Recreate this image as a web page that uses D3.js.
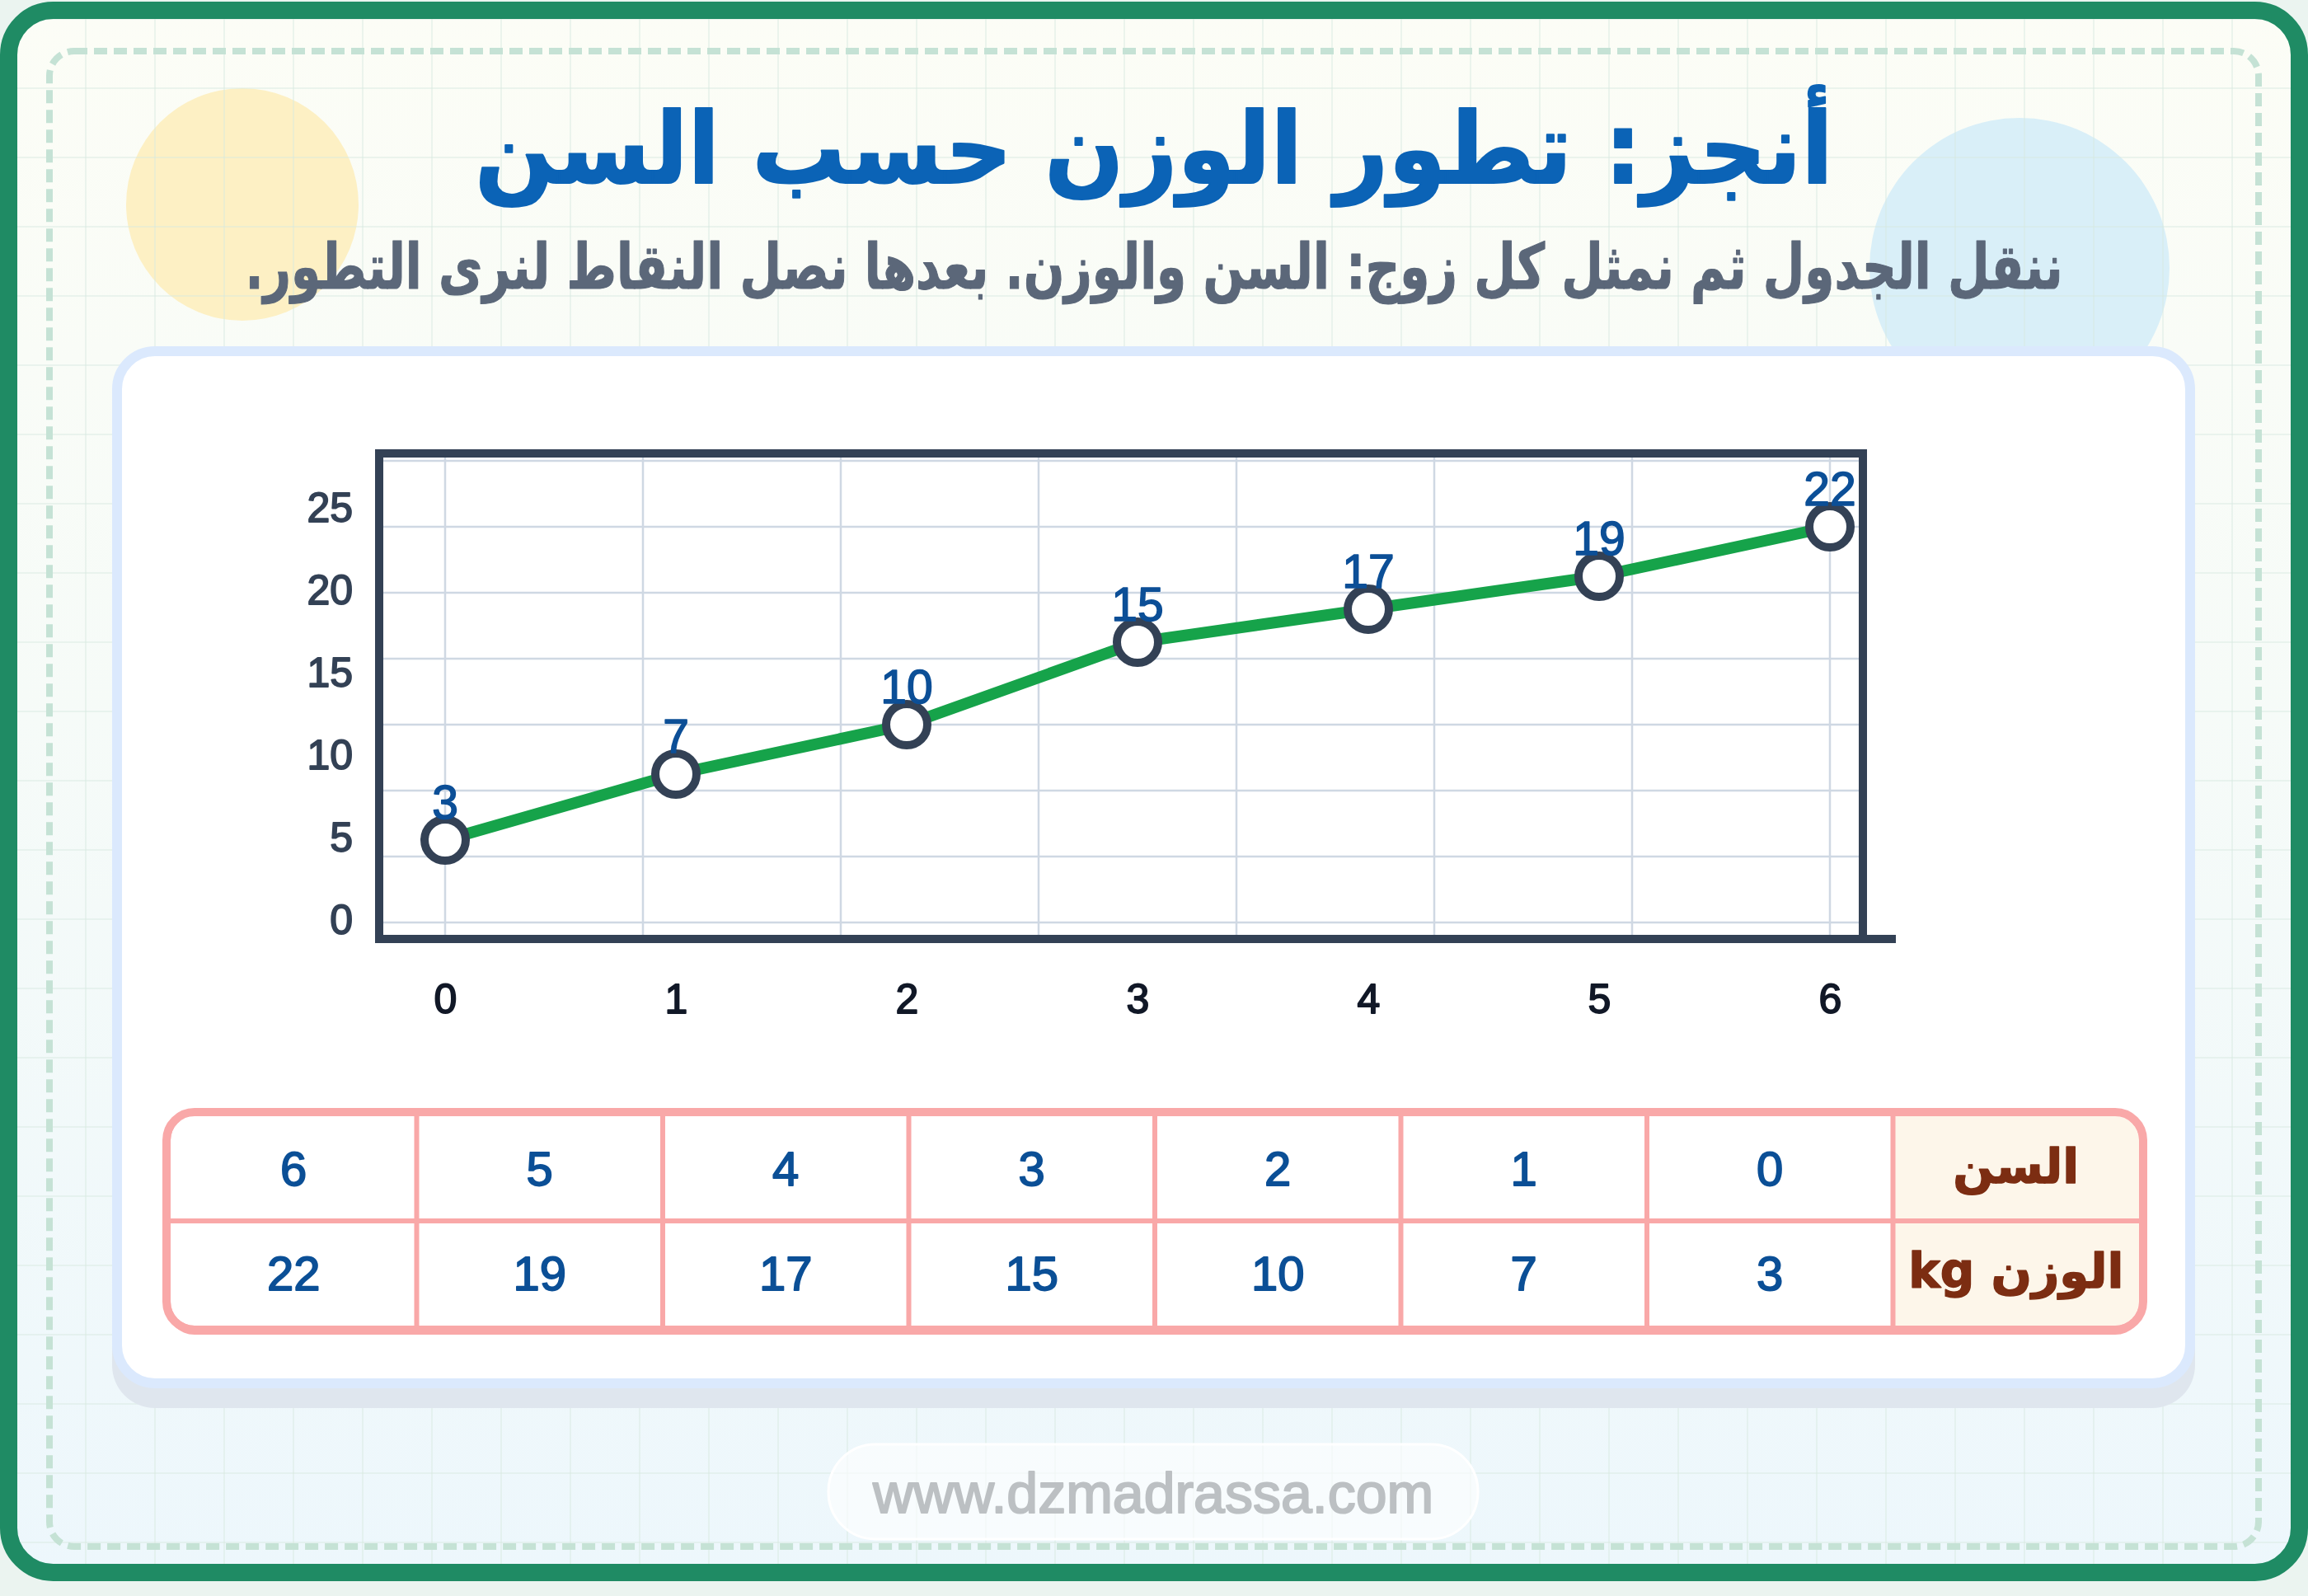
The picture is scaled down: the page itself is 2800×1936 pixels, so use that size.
<!DOCTYPE html>
<html>
<head>
<meta charset="utf-8">
<script src="https://cdn.jsdelivr.net/npm/d3@7"></script>
<style>
  html, body { margin: 0; padding: 0; background: #ebf4f0; }
  svg { display: block; }
</style>
</head>
<body>
<div id="vis"></div>
<script>
// data
const ages = [0, 1, 2, 3, 4, 5, 6];
const weights = [3, 7, 10, 15, 17, 19, 22];
const yTicks = [0, 5, 10, 15, 20, 25];
const yGrid = [-2, 2, 6, 10, 14, 18, 22, 26];
const rowKeys = ['age', 'weight'];
const rowLabels = ['السن', 'الوزن kg'];
const titleText = 'أنجز: تطور الوزن حسب السن';
const subtitleText = 'ننقل الجدول ثم نمثل كل زوج: السن والوزن. بعدها نصل النقاط لنرى التطور.';
const footerText = 'www.dzmadrassa.com';

const W = 2800, H = 1936;
const arabicFont = '"DejaVu Sans", sans-serif';
const latinFont = '"Liberation Sans", Arial, sans-serif';

const svg = d3.select('#vis').append('svg')
  .attr('width', W)
  .attr('height', H);

// slightly heavier than regular: outline glyphs in their own colour
function semibold(sel, color, w) {
  sel.attr('stroke', color).attr('stroke-width', w).attr('stroke-linejoin', 'round');
}

const defs = svg.append('defs');
const grad = defs.append('linearGradient')
  .attr('id', 'bgGrad')
  .attr('x1', 0).attr('y1', 0).attr('x2', 0).attr('y2', 1);
grad.append('stop').attr('offset', 0).attr('stop-color', '#fcfdf6');
grad.append('stop').attr('offset', 0.45).attr('stop-color', '#f6fbf8');
grad.append('stop').attr('offset', 1).attr('stop-color', '#edf7fc');

defs.append('clipPath').attr('id', 'innerClip')
  .append('rect')
  .attr('x', 21).attr('y', 23)
  .attr('width', 2758).attr('height', 1874)
  .attr('rx', 44);

// page card background
svg.append('rect')
  .attr('x', 10.5).attr('y', 12.5)
  .attr('width', 2779).attr('height', 1895)
  .attr('rx', 54)
  .attr('fill', 'url(#bgGrad)');

// decorative circles
svg.append('circle')
  .attr('cx', 294).attr('cy', 248).attr('r', 141)
  .attr('fill', '#fdf0c4');
svg.append('circle')
  .attr('cx', 2450).attr('cy', 325).attr('r', 182)
  .attr('fill', '#d9eff8');

// faint background grid
const bgGrid = svg.append('g').attr('clip-path', 'url(#innerClip)');
bgGrid.selectAll('line.gv')
  .data(d3.range(20, W, 84))
  .enter().append('line')
  .attr('class', 'gv')
  .attr('x1', d => d).attr('x2', d => d)
  .attr('y1', 0).attr('y2', H)
  .attr('stroke', '#d6e8e0')
  .attr('stroke-opacity', 0.45)
  .attr('stroke-width', 2);
bgGrid.selectAll('line.gh')
  .data(d3.range(23, H, 84))
  .enter().append('line')
  .attr('class', 'gh')
  .attr('x1', 0).attr('x2', W)
  .attr('y1', d => d).attr('y2', d => d)
  .attr('stroke', '#d6e8e0')
  .attr('stroke-opacity', 0.45)
  .attr('stroke-width', 2);

// dashed frame
svg.append('rect')
  .attr('x', 60).attr('y', 62)
  .attr('width', 2680).attr('height', 1814)
  .attr('rx', 30)
  .attr('fill', 'none')
  .attr('stroke', '#c5e2d5')
  .attr('stroke-width', 8)
  .attr('stroke-dasharray', '16 8');

// green border
svg.append('rect')
  .attr('x', 10.5).attr('y', 12.5)
  .attr('width', 2779).attr('height', 1895)
  .attr('rx', 54)
  .attr('fill', 'none')
  .attr('stroke', '#1f8b64')
  .attr('stroke-width', 21);

// title + subtitle
svg.append('text')
  .attr('x', 1400).attr('y', 222)
  .attr('text-anchor', 'middle')
  .attr('direction', 'rtl')
  .attr('font-family', arabicFont)
  .attr('font-weight', 700)
  .attr('font-size', 120)
  .attr('fill', '#0b63b6')
  .attr('textLength', 1648)
  .attr('lengthAdjust', 'spacingAndGlyphs')
  .call(semibold, '#0b63b6', 2)
  .text(titleText);

svg.append('text')
  .attr('x', 1400).attr('y', 350)
  .attr('text-anchor', 'middle')
  .attr('direction', 'rtl')
  .attr('font-family', arabicFont)
  .attr('font-weight', 700)
  .attr('font-size', 76)
  .attr('fill', '#5b6779')
  .attr('textLength', 2205)
  .attr('lengthAdjust', 'spacingAndGlyphs')
  .call(semibold, '#5b6779', 1.2)
  .text(subtitleText);

// white chart card with offset shadow
svg.append('rect')
  .attr('x', 136).attr('y', 444)
  .attr('width', 2527).attr('height', 1264)
  .attr('rx', 52)
  .attr('fill', '#dfe6ee');
svg.append('rect')
  .attr('x', 142).attr('y', 426)
  .attr('width', 2515).attr('height', 1252)
  .attr('rx', 46)
  .attr('fill', '#ffffff')
  .attr('stroke', '#dbe9fd')
  .attr('stroke-width', 12);

// ---- plot ----
const plot = {left: 460, right: 2260, top: 550, bottom: 1139};
const xScale = d3.scaleLinear().domain([0, 6]).range([540, 2220]);
const yScale = d3.scaleLinear().domain([-3, 26.5]).range([plot.bottom, plot.top - 1]);

const gridG = svg.append('g');
gridG.selectAll('line.hy')
  .data(yGrid)
  .enter().append('line')
  .attr('class', 'hy')
  .attr('x1', plot.left + 5).attr('x2', plot.right - 5)
  .attr('y1', d => yScale(d)).attr('y2', d => yScale(d))
  .attr('stroke', '#cfd8e3')
  .attr('stroke-width', 2.5);
gridG.selectAll('line.vx')
  .data(d3.range(8).map(i => i * 6 / 7))
  .enter().append('line')
  .attr('class', 'vx')
  .attr('x1', d => xScale(d)).attr('x2', d => xScale(d))
  .attr('y1', plot.top + 5).attr('y2', plot.bottom - 5)
  .attr('stroke', '#cfd8e3')
  .attr('stroke-width', 2.5);

svg.append('rect')
  .attr('x', plot.left).attr('y', plot.top)
  .attr('width', plot.right - plot.left)
  .attr('height', plot.bottom - plot.top)
  .attr('fill', 'none')
  .attr('stroke', '#334155')
  .attr('stroke-width', 10);
svg.append('line')
  .attr('x1', plot.left - 5).attr('x2', plot.right + 40)
  .attr('y1', plot.bottom).attr('y2', plot.bottom)
  .attr('stroke', '#334155')
  .attr('stroke-width', 10);

// axes (labels only)
const yAxisG = svg.append('g')
  .attr('transform', `translate(${plot.left},37)`)
  .call(d3.axisLeft(yScale).tickValues(yTicks).tickSize(0).tickPadding(32));
yAxisG.select('.domain').remove();
yAxisG.selectAll('text')
  .attr('font-family', latinFont)
  .attr('font-size', 50)
  .attr('fill', '#334155')
  .call(semibold, '#334155', 1.8);

const xAxisG = svg.append('g')
  .attr('transform', `translate(0,${plot.bottom})`)
  .call(d3.axisBottom(xScale).tickValues(ages).tickFormat(d3.format('d')).tickSize(0).tickPadding(54));
xAxisG.select('.domain').remove();
xAxisG.selectAll('text')
  .attr('font-family', latinFont)
  .attr('font-size', 50)
  .attr('fill', '#111827')
  .call(semibold, '#111827', 1.8);

// line + points
const weightLine = d3.line()
  .x((d, i) => xScale(ages[i]))
  .y(d => yScale(d));

svg.append('path')
  .attr('d', weightLine(weights))
  .attr('fill', 'none')
  .attr('stroke', '#16a34a')
  .attr('stroke-width', 14)
  .attr('stroke-linejoin', 'round');

svg.selectAll('circle.pt')
  .data(weights)
  .enter().append('circle')
  .attr('class', 'pt')
  .attr('cx', (d, i) => xScale(ages[i]))
  .attr('cy', d => yScale(d))
  .attr('r', 25)
  .attr('fill', '#ffffff')
  .attr('stroke', '#334155')
  .attr('stroke-width', 10);

svg.selectAll('text.pl')
  .data(weights)
  .enter().append('text')
  .attr('class', 'pl')
  .attr('x', (d, i) => xScale(ages[i]))
  .attr('y', d => yScale(d) - 26)
  .attr('text-anchor', 'middle')
  .attr('font-family', latinFont)
  .attr('font-size', 57)
  .attr('fill', '#0c4f97')
  .call(semibold, '#0c4f97', 1.6)
  .text(d => d);

// ---- table ----
const tbl = {left: 207, right: 2595, top: 1354, bottom: 1608};
const colX = d3.scaleBand().domain(['head', ...ages]).range([tbl.right, tbl.left]);
const rowY = d3.scaleBand().domain(rowKeys).range([tbl.top, tbl.bottom]);
const bw = colX.bandwidth();

defs.append('clipPath').attr('id', 'tblClip')
  .append('rect')
  .attr('x', tbl.left).attr('y', tbl.top)
  .attr('width', tbl.right - tbl.left).attr('height', tbl.bottom - tbl.top)
  .attr('rx', 29);

svg.append('rect')
  .attr('x', 202).attr('y', 1355)
  .attr('width', 2398).attr('height', 264)
  .attr('rx', 34)
  .attr('fill', '#f9a8a8');

const tg = svg.append('g').attr('clip-path', 'url(#tblClip)');
tg.append('rect')
  .attr('x', tbl.left).attr('y', tbl.top)
  .attr('width', tbl.right - tbl.left).attr('height', tbl.bottom - tbl.top)
  .attr('fill', '#ffffff');
tg.append('rect')
  .attr('x', colX('head')).attr('y', tbl.top)
  .attr('width', bw).attr('height', tbl.bottom - tbl.top)
  .attr('fill', '#fdf6ea');

tg.selectAll('line.cd')
  .data(ages)
  .enter().append('line')
  .attr('class', 'cd')
  .attr('x1', d => colX(d) + bw).attr('x2', d => colX(d) + bw)
  .attr('y1', tbl.top).attr('y2', tbl.bottom)
  .attr('stroke', '#f9a8a8')
  .attr('stroke-width', 6);
tg.append('line')
  .attr('x1', tbl.left).attr('x2', tbl.right)
  .attr('y1', rowY('weight')).attr('y2', rowY('weight'))
  .attr('stroke', '#f9a8a8')
  .attr('stroke-width', 6);

svg.append('rect')
  .attr('x', 202).attr('y', 1349)
  .attr('width', 2398).attr('height', 264)
  .attr('rx', 34)
  .attr('fill', 'none')
  .attr('stroke', '#f9a8a8')
  .attr('stroke-width', 10);

svg.selectAll('text.rh')
  .data(rowLabels)
  .enter().append('text')
  .attr('class', 'rh')
  .attr('x', colX('head') + bw / 2)
  .attr('y', (d, i) => rowY(rowKeys[i]) + rowY.bandwidth() / 2)
  .attr('dy', '0.3em')
  .attr('text-anchor', 'middle')
  .attr('direction', 'rtl')
  .attr('font-family', arabicFont)
  .attr('font-weight', 700)
  .attr('font-size', 58)
  .attr('fill', '#7c2d12')
  .call(semibold, '#7c2d12', 1.5)
  .text(d => d);

svg.selectAll('text.ca')
  .data(ages)
  .enter().append('text')
  .attr('class', 'ca')
  .attr('x', d => colX(d) + bw / 2)
  .attr('y', rowY('age') + rowY.bandwidth() / 2)
  .attr('dy', '0.36em')
  .attr('text-anchor', 'middle')
  .attr('font-family', latinFont)
  .attr('font-size', 58)
  .attr('fill', '#0b4f96')
  .call(semibold, '#0b4f96', 1.8)
  .text(d => d);

svg.selectAll('text.cw')
  .data(weights)
  .enter().append('text')
  .attr('class', 'cw')
  .attr('x', (d, i) => colX(ages[i]) + bw / 2)
  .attr('y', rowY('weight') + rowY.bandwidth() / 2)
  .attr('dy', '0.36em')
  .attr('text-anchor', 'middle')
  .attr('font-family', latinFont)
  .attr('font-size', 58)
  .attr('fill', '#0b4f96')
  .call(semibold, '#0b4f96', 1.8)
  .text(d => d);

// footer
svg.append('rect')
  .attr('x', 1005).attr('y', 1752)
  .attr('width', 788).attr('height', 115)
  .attr('rx', 57)
  .attr('fill', '#ffffff')
  .attr('fill-opacity', 0.6)
  .attr('stroke', '#ffffff')
  .attr('stroke-width', 3);
svg.append('text')
  .attr('x', 1399).attr('y', 1835)
  .attr('text-anchor', 'middle')
  .attr('font-family', latinFont)
  .attr('font-size', 68)
  .attr('fill', '#bcc0c3')
  .call(semibold, '#bcc0c3', 2)
  .text(footerText);
</script>
</body>
</html>
